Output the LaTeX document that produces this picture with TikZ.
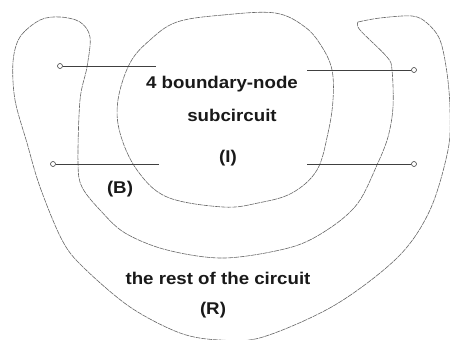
\documentclass[tikz,border=0pt]{standalone}
\usepackage{fontspec}
\newfontfamily\labfont[FakeStretch=1.1]{Liberation Sans}
\tikzset{
  region/.style={draw=black!60, line width=0.6pt, dash pattern=on 5pt off 0.8pt},
  wire/.style={draw=black!75, line width=0.8pt},
  terminal/.style={circle, draw=black!75, line width=0.6pt, fill=white, inner sep=0pt, minimum size=5pt},
  lab/.style={font=\labfont\bfseries\fontsize{17}{20}\selectfont, text=black!90, inner sep=0pt}
}
\begin{document}
\begin{tikzpicture}[x=1pt,y=-1pt]
\useasboundingbox (0,0) rectangle (450,340);
% inner subcircuit boundary (I)
\draw[region] plot[smooth cycle, tension=0.6] coordinates {
 (177,22) (223,15) (275,13) (305,27) (322,47) (332,70) (333,100) (328,133)
 (317,170) (292,193) (258,203) (223,207) (167,197) (137,170) (120,133)
 (118,100) (130,63) (150,40)};
% outer C-shaped region (B) and (R)
\draw[region] plot[smooth, tension=0.55] coordinates {
 (358,22) (380,18) (412,16) (427,23) (440,40) (447,73) (450,110) (448,150)
 (430,210) (398,257) (335,305) (263,337) (220,340) (180,333) (130,307)
 (83,267) (62,240) (40,187) (27,143) (15,100) (13,62) (20,37) (40,20)
 (60,17) (80,22) (90,37) (87,67) (80,100) (78,163) (82,187) (100,210)
 (125,233) (167,250) (225,258) (292,247) (330,228) (358,203) (377,165)
 (388,137) (393,107) (392,70) (387,57) (360,30) (358,22)};
% terminals and wires
\node[terminal] (tl1) at (60,66) {};
\node[terminal] (tl2) at (53,164) {};
\node[terminal] (tr1) at (414,70) {};
\node[terminal] (tr2) at (414,164) {};
\coordinate (el1) at (156,66);
\coordinate (el2) at (159,164);
\coordinate (er1) at (307,70);
\coordinate (er2) at (307,164);
\draw[wire] (tl1) -- (el1);
\draw[wire] (tl2) -- (el2);
\draw[wire] (tr1) -- (er1);
\draw[wire] (tr2) -- (er2);
% labels
\node[lab] (t1) at (222,84) {4 boundary-node};
\node[lab] (t2) at (232,115) {subcircuit};
\node[lab] (t3) at (228,158) {(I)};
\node[lab] (t4) at (120,189) {(B)};
\node[lab] (t5) at (218,278) {the rest of the circuit};
\node[lab] (t6) at (213,310) {(R)};
\end{tikzpicture}
\end{document}
